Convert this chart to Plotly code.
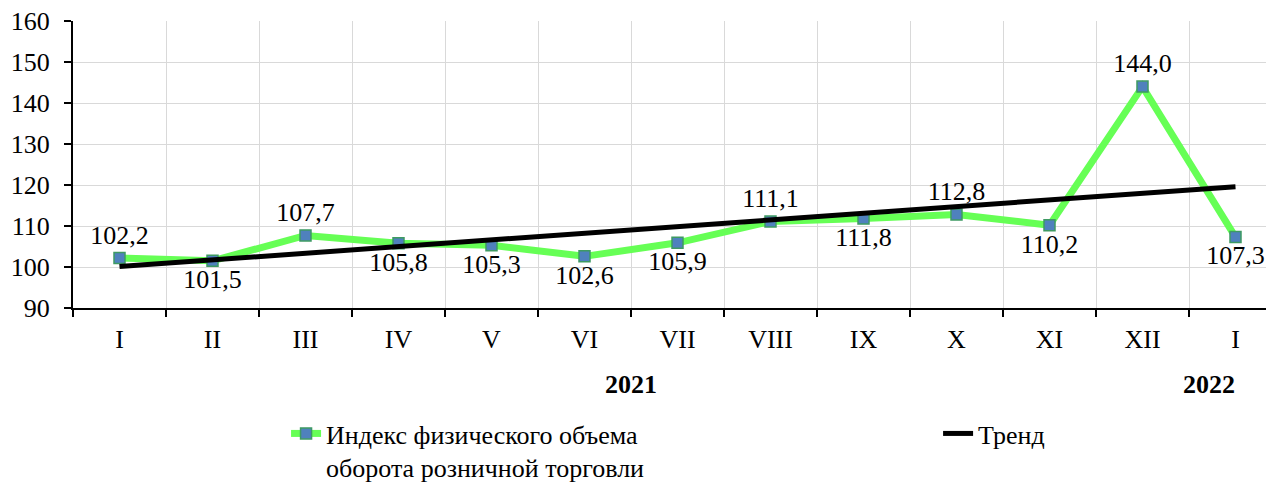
import plotly.graph_objects as go

months = ["I", "II", "III", "IV", "V", "VI", "VII", "VIII", "IX", "X", "XI", "XII", "I"]
values = [102.2, 101.5, 107.7, 105.8, 105.3, 102.6, 105.9, 111.1, 111.8, 112.8, 110.2, 144.0, 107.3]
label_pos = ["top center", "bottom center", "top center", "bottom center", "bottom center",
             "bottom center", "bottom center", "top center", "bottom center", "top center",
             "bottom center", "top center", "bottom center"]
trend_x = [0, 12]
trend_y = [100.1, 119.6]
years = ["2021", "2022"]
year_x = [5.5, 11.72]

FONT = "Liberation Serif"
FS = 26
xs = list(range(len(months)))
labels = [f"{v:.1f}".replace(".", ",") for v in values]

fig = go.Figure()
fig.add_trace(go.Scatter(
    x=xs, y=values, mode="lines+markers+text",
    name="Индекс физического объема<br>оборота розничной торговли",
    line=dict(color="#66FF55", width=7),
    marker=dict(symbol="square", size=11, color="#4F81BD", line=dict(color="#3E9A63", width=1.5)),
    text=labels, textposition=label_pos, cliponaxis=False,
    textfont=dict(family=FONT, size=FS, color="#000000"),
    legend="legend",
))
fig.add_trace(go.Scatter(
    x=trend_x, y=trend_y, mode="lines", name="Тренд",
    line=dict(color="#000000", width=5),
    legend="legend2",
))

for yt, yx in zip(years, year_x):
    fig.add_annotation(x=yx, y=0, xref="x", yref="paper", yanchor="top", yshift=-60,
                       text=f"<b>{yt}</b>", showarrow=False,
                       font=dict(family=FONT, size=FS, color="#000000"))

fig.update_layout(
    width=1266, height=474,
    margin=dict(l=65, r=0, t=13, b=174, autoexpand=False),
    paper_bgcolor="white", plot_bgcolor="white",
    font=dict(family=FONT, size=FS, color="#000000"),
    showlegend=True,
    legend=dict(x=0.1774, xanchor="left", y=-0.3555, yanchor="top", valign="top",
                bgcolor="rgba(0,0,0,0)", tracegroupgap=0,
                font=dict(family=FONT, size=FS, color="#000000")),
    legend2=dict(x=0.7203, xanchor="left", y=-0.3555, yanchor="top", valign="top",
                 bgcolor="rgba(0,0,0,0)",
                 font=dict(family=FONT, size=FS, color="#000000")),
    xaxis=dict(
        range=[-0.5, 12.414], tickmode="array", tickvals=xs, ticktext=months,
        ticks="", showgrid=False, zeroline=False,
        showline=True, linecolor="#000000", linewidth=2,
        ticklabelstandoff=7, ticklabeloverflow="allow",
        tickfont=dict(family=FONT, size=FS, color="#000000"),
        minor=dict(tick0=0.5, dtick=1, ticks="outside", ticklen=7, tickwidth=2,
                   tickcolor="#000000", showgrid=True, gridcolor="#D9D9D9", gridwidth=1),
    ),
    yaxis=dict(
        range=[90, 160], dtick=10, tick0=90, ticks="outside", ticklen=7, tickwidth=2,
        tickcolor="#000000", showline=True, linecolor="#000000", linewidth=2,
        showgrid=True, gridcolor="#D9D9D9", gridwidth=1, zeroline=False,
        ticklabelstandoff=9, ticklabeloverflow="allow",
        tickfont=dict(family=FONT, size=FS, color="#000000"),
    ),
)

fig.write_html("out.html")
